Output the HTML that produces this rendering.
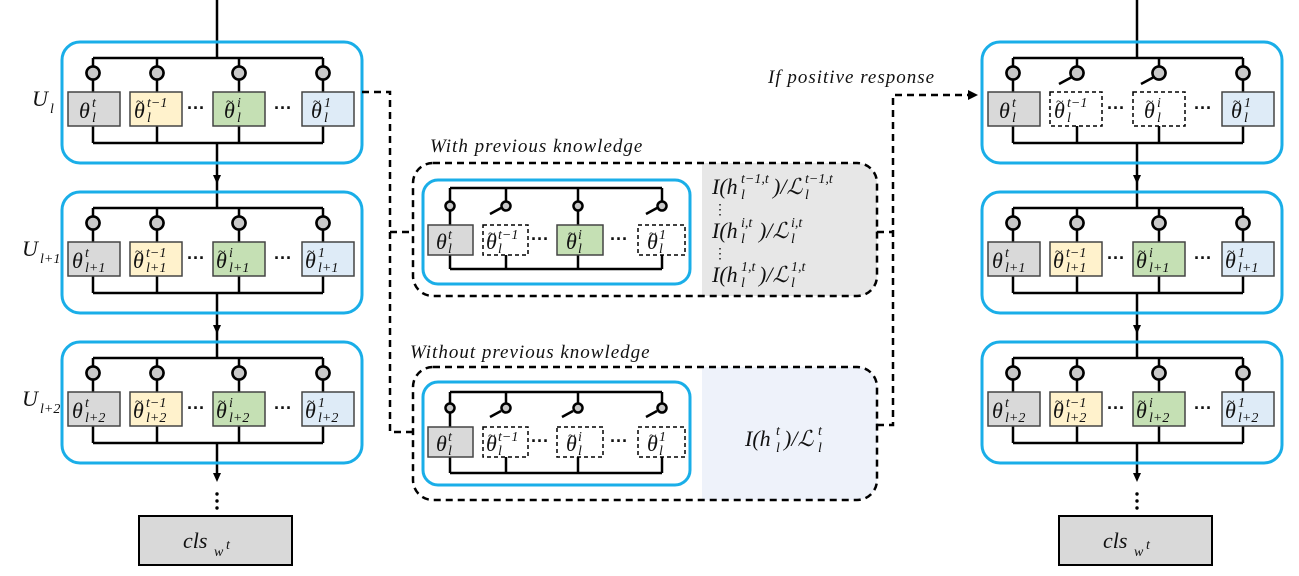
<!DOCTYPE html>
<html><head><meta charset="utf-8"><style>
html,body{margin:0;padding:0;background:#fff;}
svg{display:block;}
.m{font-family:"Liberation Serif",serif;font-style:italic;font-size:22px;fill:#111;}
.s{font-family:"Liberation Serif",serif;font-style:italic;font-size:14px;fill:#111;}
.t{font-family:"Liberation Serif",serif;font-size:14px;fill:#111;}
.lab{font-family:"Liberation Serif",serif;font-style:italic;font-size:19px;fill:#111;letter-spacing:1px;}
.w{stroke:#000;stroke-width:2.5;fill:none;}
.c{fill:#c8c8c8;stroke:#000;stroke-width:2.5;}
.b{stroke:#444;stroke-width:1.5;}
.d{stroke:#000;stroke-width:1.5;fill:#fff;stroke-dasharray:4 3;}
.blue{fill:none;stroke:#1aaee8;stroke-width:3;}
.dash{stroke:#000;stroke-width:2.5;fill:none;stroke-dasharray:7 5;}
.dots{font-family:"Liberation Sans",sans-serif;font-size:18px;font-weight:bold;fill:#111;}
</style></head><body>
<svg width="1299" height="576" viewBox="0 0 1299 576" xmlns="http://www.w3.org/2000/svg">
<defs>
<g id="frame">
<rect x="62" y="0" width="300" height="121" rx="18" class="blue"/>
<line x1="93" y1="16" x2="323" y2="16" class="w"/>
<line x1="93" y1="101" x2="323" y2="101" class="w"/>
<line x1="93" y1="84" x2="93" y2="101" class="w"/>
<line x1="157" y1="84" x2="157" y2="101" class="w"/>
<line x1="239" y1="84" x2="239" y2="101" class="w"/>
<line x1="323" y1="84" x2="323" y2="101" class="w"/>
<text x="187" y="72" class="dots">···</text>
<text x="274" y="72" class="dots">···</text>
</g>
<g id="closed">
<line x1="0" y1="16" x2="0" y2="50" class="w"/>
<circle cx="0" cy="31" r="6.5" class="c"/>
</g>
<g id="open">
<line x1="0" y1="16" x2="0" y2="25" class="w"/>
<circle cx="0" cy="31" r="6.5" class="c"/>
<line x1="-5" y1="35" x2="-18" y2="42" class="w"/>
</g>
</defs>

<g>
<line x1="217" y1="0" x2="217" y2="58" class="w"/>
<line x1="217" y1="143" x2="217" y2="208" class="w"/>
<line x1="217" y1="293" x2="217" y2="358" class="w"/>
<line x1="217" y1="443" x2="217" y2="478" class="w"/>
<line x1="1137" y1="0" x2="1137" y2="58" class="w"/>
<line x1="1137" y1="143" x2="1137" y2="208" class="w"/>
<line x1="1137" y1="293" x2="1137" y2="358" class="w"/>
<line x1="1137" y1="443" x2="1137" y2="478" class="w"/>
</g>
<g fill="#000">
<polygon points="213,175 221,175 217,184"/>
<polygon points="213,325 221,325 217,334"/>
<polygon points="213,473 221,473 217,482"/>
<polygon points="1133,175 1141,175 1137,184"/>
<polygon points="1133,325 1141,325 1137,334"/>
<polygon points="1133,473 1141,473 1137,482"/>
<circle cx="217" cy="494" r="1.7"/><circle cx="217" cy="501" r="1.7"/><circle cx="217" cy="508" r="1.7"/>
<circle cx="1137" cy="494" r="1.7"/><circle cx="1137" cy="501" r="1.7"/><circle cx="1137" cy="508" r="1.7"/>
</g>
<rect x="139" y="516" width="153" height="49" fill="#d9d9d9" stroke="#000" stroke-width="2"/>
<text x="183" y="548" class="m" font-size="24">cls</text><text x="214" y="556" class="s" font-size="15">w</text><text x="226" y="549" class="s" font-size="11">t</text>
<rect x="1059" y="516" width="153" height="49" fill="#d9d9d9" stroke="#000" stroke-width="2"/>
<text x="1103" y="548" class="m" font-size="24">cls</text><text x="1134" y="556" class="s" font-size="15">w</text><text x="1146" y="549" class="s" font-size="11">t</text>

<text x="32" y="106" class="m" font-size="25">U</text><text x="50" y="113" class="s" font-size="17">l</text>
<text x="22" y="256" class="m" font-size="25">U</text><text x="40" y="263" class="s" font-size="17">l+1</text>
<text x="22" y="406" class="m" font-size="25">U</text><text x="40" y="413" class="s" font-size="17">l+2</text>

<!-- LEFT rows -->
<g transform="translate(0,42)">
<use href="#frame"/>
<use href="#closed" x="93"/><use href="#closed" x="157"/><use href="#closed" x="239"/><use href="#closed" x="323"/>
<rect x="68" y="50" width="52" height="34" fill="#d9d9d9" class="b"/>
<rect x="130" y="50" width="52" height="34" fill="#fff2cc" class="b"/>
<rect x="213" y="50" width="52" height="34" fill="#c5e0b4" class="b"/>
<rect x="302" y="50" width="52" height="34" fill="#deebf7" class="b"/>
<circle cx="93" cy="31" r="6.5" class="c"/><circle cx="157" cy="31" r="6.5" class="c"/><circle cx="239" cy="31" r="6.5" class="c"/><circle cx="323" cy="31" r="6.5" class="c"/>
<text x="79" y="76" class="m">θ</text><text x="92" y="65" class="s">t</text><text x="92" y="80" class="s">l</text>
<text x="136" y="64" class="t">~</text><text x="134" y="76" class="m">θ</text><text x="147" y="65" class="s">t−1</text><text x="147" y="80" class="s">l</text>
<text x="226" y="64" class="t">~</text><text x="224" y="76" class="m">θ</text><text x="237" y="65" class="s">i</text><text x="237" y="80" class="s">l</text>
<text x="313" y="64" class="t">~</text><text x="311" y="76" class="m">θ</text><text x="324" y="65" class="s">1</text><text x="324" y="80" class="s">l</text>
</g>
<g transform="translate(0,192)">
<use href="#frame"/>
<use href="#closed" x="93"/><use href="#closed" x="157"/><use href="#closed" x="239"/><use href="#closed" x="323"/>
<rect x="68" y="50" width="52" height="34" fill="#d9d9d9" class="b"/>
<rect x="130" y="50" width="52" height="34" fill="#fff2cc" class="b"/>
<rect x="213" y="50" width="52" height="34" fill="#c5e0b4" class="b"/>
<rect x="302" y="50" width="52" height="34" fill="#deebf7" class="b"/>
<circle cx="93" cy="31" r="6.5" class="c"/><circle cx="157" cy="31" r="6.5" class="c"/><circle cx="239" cy="31" r="6.5" class="c"/><circle cx="323" cy="31" r="6.5" class="c"/>
<text x="72" y="76" class="m">θ</text><text x="85" y="65" class="s">t</text><text x="85" y="80" class="s">l+1</text>
<text x="135" y="64" class="t">~</text><text x="133" y="76" class="m">θ</text><text x="146" y="65" class="s">t−1</text><text x="146" y="80" class="s">l+1</text>
<text x="218" y="64" class="t">~</text><text x="216" y="76" class="m">θ</text><text x="229" y="65" class="s">i</text><text x="229" y="80" class="s">l+1</text>
<text x="307" y="64" class="t">~</text><text x="305" y="76" class="m">θ</text><text x="318" y="65" class="s">1</text><text x="318" y="80" class="s">l+1</text>
</g>
<g transform="translate(0,342)">
<use href="#frame"/>
<use href="#closed" x="93"/><use href="#closed" x="157"/><use href="#closed" x="239"/><use href="#closed" x="323"/>
<rect x="68" y="50" width="52" height="34" fill="#d9d9d9" class="b"/>
<rect x="130" y="50" width="52" height="34" fill="#fff2cc" class="b"/>
<rect x="213" y="50" width="52" height="34" fill="#c5e0b4" class="b"/>
<rect x="302" y="50" width="52" height="34" fill="#deebf7" class="b"/>
<circle cx="93" cy="31" r="6.5" class="c"/><circle cx="157" cy="31" r="6.5" class="c"/><circle cx="239" cy="31" r="6.5" class="c"/><circle cx="323" cy="31" r="6.5" class="c"/>
<text x="72" y="76" class="m">θ</text><text x="85" y="65" class="s">t</text><text x="85" y="80" class="s">l+2</text>
<text x="135" y="64" class="t">~</text><text x="133" y="76" class="m">θ</text><text x="146" y="65" class="s">t−1</text><text x="146" y="80" class="s">l+2</text>
<text x="218" y="64" class="t">~</text><text x="216" y="76" class="m">θ</text><text x="229" y="65" class="s">i</text><text x="229" y="80" class="s">l+2</text>
<text x="307" y="64" class="t">~</text><text x="305" y="76" class="m">θ</text><text x="318" y="65" class="s">1</text><text x="318" y="80" class="s">l+2</text>
</g>

<!-- RIGHT rows -->
<g transform="translate(920,42)">
<use href="#frame"/>
<use href="#closed" x="93"/><use href="#open" x="157"/><use href="#open" x="239"/><use href="#closed" x="323"/>
<rect x="68" y="50" width="52" height="34" fill="#d9d9d9" class="b"/>
<rect x="130" y="50" width="52" height="34" class="d"/>
<rect x="213" y="50" width="52" height="34" class="d"/>
<rect x="302" y="50" width="52" height="34" fill="#deebf7" class="b"/>
<circle cx="93" cy="31" r="6.5" class="c"/><circle cx="157" cy="31" r="6.5" class="c"/><circle cx="239" cy="31" r="6.5" class="c"/><circle cx="323" cy="31" r="6.5" class="c"/>
<text x="79" y="76" class="m">θ</text><text x="92" y="65" class="s">t</text><text x="92" y="80" class="s">l</text>
<text x="136" y="64" class="t">~</text><text x="134" y="76" class="m">θ</text><text x="147" y="65" class="s">t−1</text><text x="147" y="80" class="s">l</text>
<text x="226" y="64" class="t">~</text><text x="224" y="76" class="m">θ</text><text x="237" y="65" class="s">i</text><text x="237" y="80" class="s">l</text>
<text x="313" y="64" class="t">~</text><text x="311" y="76" class="m">θ</text><text x="324" y="65" class="s">1</text><text x="324" y="80" class="s">l</text>
</g>
<g transform="translate(920,192)">
<use href="#frame"/>
<use href="#closed" x="93"/><use href="#closed" x="157"/><use href="#closed" x="239"/><use href="#closed" x="323"/>
<rect x="68" y="50" width="52" height="34" fill="#d9d9d9" class="b"/>
<rect x="130" y="50" width="52" height="34" fill="#fff2cc" class="b"/>
<rect x="213" y="50" width="52" height="34" fill="#c5e0b4" class="b"/>
<rect x="302" y="50" width="52" height="34" fill="#deebf7" class="b"/>
<circle cx="93" cy="31" r="6.5" class="c"/><circle cx="157" cy="31" r="6.5" class="c"/><circle cx="239" cy="31" r="6.5" class="c"/><circle cx="323" cy="31" r="6.5" class="c"/>
<text x="72" y="76" class="m">θ</text><text x="85" y="65" class="s">t</text><text x="85" y="80" class="s">l+1</text>
<text x="135" y="64" class="t">~</text><text x="133" y="76" class="m">θ</text><text x="146" y="65" class="s">t−1</text><text x="146" y="80" class="s">l+1</text>
<text x="218" y="64" class="t">~</text><text x="216" y="76" class="m">θ</text><text x="229" y="65" class="s">i</text><text x="229" y="80" class="s">l+1</text>
<text x="307" y="64" class="t">~</text><text x="305" y="76" class="m">θ</text><text x="318" y="65" class="s">1</text><text x="318" y="80" class="s">l+1</text>
</g>
<g transform="translate(920,342)">
<use href="#frame"/>
<use href="#closed" x="93"/><use href="#closed" x="157"/><use href="#closed" x="239"/><use href="#closed" x="323"/>
<rect x="68" y="50" width="52" height="34" fill="#d9d9d9" class="b"/>
<rect x="130" y="50" width="52" height="34" fill="#fff2cc" class="b"/>
<rect x="213" y="50" width="52" height="34" fill="#c5e0b4" class="b"/>
<rect x="302" y="50" width="52" height="34" fill="#deebf7" class="b"/>
<circle cx="93" cy="31" r="6.5" class="c"/><circle cx="157" cy="31" r="6.5" class="c"/><circle cx="239" cy="31" r="6.5" class="c"/><circle cx="323" cy="31" r="6.5" class="c"/>
<text x="72" y="76" class="m">θ</text><text x="85" y="65" class="s">t</text><text x="85" y="80" class="s">l+2</text>
<text x="135" y="64" class="t">~</text><text x="133" y="76" class="m">θ</text><text x="146" y="65" class="s">t−1</text><text x="146" y="80" class="s">l+2</text>
<text x="218" y="64" class="t">~</text><text x="216" y="76" class="m">θ</text><text x="229" y="65" class="s">i</text><text x="229" y="80" class="s">l+2</text>
<text x="307" y="64" class="t">~</text><text x="305" y="76" class="m">θ</text><text x="318" y="65" class="s">1</text><text x="318" y="80" class="s">l+2</text>
</g>

<!-- MIDDLE: With previous knowledge -->
<text x="430" y="152" class="lab">With previous knowledge</text>
<path d="M702,163 H857 a20,20 0 0 1 20,20 V276 a20,20 0 0 1 -20,20 H702 Z" fill="#e7e7e7"/>
<rect x="413" y="163" width="464" height="133" rx="20" class="dash"/>
<rect x="423" y="180" width="267" height="104" rx="15" class="blue"/>
<g class="w" stroke-width="2.2">
<line x1="450" y1="188" x2="662" y2="188"/>
<line x1="450" y1="269" x2="662" y2="269"/>
<line x1="450" y1="188" x2="450" y2="225"/>
<line x1="506" y1="188" x2="506" y2="201"/>
<line x1="578" y1="188" x2="578" y2="225"/>
<line x1="662" y1="188" x2="662" y2="201"/>
<line x1="501" y1="208" x2="490" y2="214"/>
<line x1="657" y1="208" x2="646" y2="214"/>
<line x1="450" y1="255" x2="450" y2="269"/>
<line x1="506" y1="255" x2="506" y2="269"/>
<line x1="578" y1="255" x2="578" y2="269"/>
<line x1="662" y1="255" x2="662" y2="269"/>
</g>
<circle cx="450" cy="206" r="4.5" class="c" stroke-width="2"/>
<circle cx="506" cy="206" r="4.5" class="c" stroke-width="2"/>
<circle cx="578" cy="206" r="4.5" class="c" stroke-width="2"/>
<circle cx="662" cy="206" r="4.5" class="c" stroke-width="2"/>
<rect x="428" y="225" width="45" height="30" fill="#d9d9d9" class="b"/>
<rect x="483" y="225" width="45" height="30" class="d"/>
<rect x="557" y="225" width="46" height="30" fill="#c5e0b4" class="b"/>
<rect x="638" y="225" width="47" height="30" class="d"/>
<text x="436" y="249" class="m" font-size="20">θ</text><text x="448" y="239" class="s" font-size="13">t</text><text x="448" y="253" class="s" font-size="13">l</text>
<text x="488" y="238" class="t" font-size="12">~</text><text x="486" y="249" class="m" font-size="20">θ</text><text x="498" y="239" class="s" font-size="13">t−1</text><text x="498" y="253" class="s" font-size="13">l</text>
<text x="568" y="238" class="t" font-size="12">~</text><text x="566" y="249" class="m" font-size="20">θ</text><text x="578" y="239" class="s" font-size="13">i</text><text x="578" y="253" class="s" font-size="13">l</text>
<text x="649" y="238" class="t" font-size="12">~</text><text x="647" y="249" class="m" font-size="20">θ</text><text x="659" y="239" class="s" font-size="13">1</text><text x="659" y="253" class="s" font-size="13">l</text>
<text x="531" y="245" class="dots" font-size="15">···</text>
<text x="610" y="245" class="dots" font-size="15">···</text>

<text x="712" y="194" class="m" font-size="20">I(h</text><text x="741" y="183" class="s" font-size="13">t−1,t</text><text x="741" y="199" class="s" font-size="13">l</text>
<text x="773" y="194" class="m" font-size="20">)/ℒ</text><text x="805" y="183" class="s" font-size="13">t−1,t</text><text x="805" y="199" class="s" font-size="13">l</text>
<text x="713" y="214" class="t" font-size="13">⋮</text>
<text x="712" y="238" class="m" font-size="20">I(h</text><text x="741" y="227" class="s" font-size="13">i,t</text><text x="741" y="243" class="s" font-size="13">l</text>
<text x="759" y="238" class="m" font-size="20">)/ℒ</text><text x="791" y="227" class="s" font-size="13">i,t</text><text x="791" y="243" class="s" font-size="13">l</text>
<text x="713" y="258" class="t" font-size="13">⋮</text>
<text x="712" y="282" class="m" font-size="20">I(h</text><text x="741" y="271" class="s" font-size="13">1,t</text><text x="741" y="287" class="s" font-size="13">l</text>
<text x="759" y="282" class="m" font-size="20">)/ℒ</text><text x="791" y="271" class="s" font-size="13">1,t</text><text x="791" y="287" class="s" font-size="13">l</text>

<!-- MIDDLE: Without previous knowledge -->
<text x="410" y="358" class="lab">Without previous knowledge</text>
<path d="M702,367 H857 a20,20 0 0 1 20,20 V480 a20,20 0 0 1 -20,20 H702 Z" fill="#eef2fa"/>
<rect x="413" y="367" width="464" height="133" rx="20" class="dash"/>
<rect x="423" y="382" width="267" height="103" rx="15" class="blue"/>
<g class="w" stroke-width="2.2">
<line x1="450" y1="392" x2="662" y2="392"/>
<line x1="450" y1="473" x2="662" y2="473"/>
<line x1="450" y1="392" x2="450" y2="427"/>
<line x1="506" y1="392" x2="506" y2="403"/>
<line x1="578" y1="392" x2="578" y2="403"/>
<line x1="662" y1="392" x2="662" y2="403"/>
<line x1="501" y1="411" x2="490" y2="417"/>
<line x1="573" y1="411" x2="562" y2="417"/>
<line x1="657" y1="411" x2="646" y2="417"/>
<line x1="450" y1="457" x2="450" y2="473"/>
<line x1="506" y1="457" x2="506" y2="473"/>
<line x1="578" y1="457" x2="578" y2="473"/>
<line x1="662" y1="457" x2="662" y2="473"/>
</g>
<circle cx="450" cy="408" r="4.5" class="c" stroke-width="2"/>
<circle cx="506" cy="408" r="4.5" class="c" stroke-width="2"/>
<circle cx="578" cy="408" r="4.5" class="c" stroke-width="2"/>
<circle cx="662" cy="408" r="4.5" class="c" stroke-width="2"/>
<rect x="428" y="427" width="45" height="30" fill="#d9d9d9" class="b"/>
<rect x="483" y="427" width="45" height="30" class="d"/>
<rect x="557" y="427" width="46" height="30" class="d"/>
<rect x="638" y="427" width="47" height="30" class="d"/>
<text x="436" y="451" class="m" font-size="20">θ</text><text x="448" y="441" class="s" font-size="13">t</text><text x="448" y="455" class="s" font-size="13">l</text>
<text x="488" y="440" class="t" font-size="12">~</text><text x="486" y="451" class="m" font-size="20">θ</text><text x="498" y="441" class="s" font-size="13">t−1</text><text x="498" y="455" class="s" font-size="13">l</text>
<text x="568" y="440" class="t" font-size="12">~</text><text x="566" y="451" class="m" font-size="20">θ</text><text x="578" y="441" class="s" font-size="13">i</text><text x="578" y="455" class="s" font-size="13">l</text>
<text x="649" y="440" class="t" font-size="12">~</text><text x="647" y="451" class="m" font-size="20">θ</text><text x="659" y="441" class="s" font-size="13">1</text><text x="659" y="455" class="s" font-size="13">l</text>
<text x="531" y="447" class="dots" font-size="15">···</text>
<text x="610" y="447" class="dots" font-size="15">···</text>
<text x="745" y="446" class="m" font-size="21">I(h</text><text x="776" y="435" class="s" font-size="14">t</text><text x="776" y="452" class="s" font-size="14">l</text>
<text x="784" y="446" class="m" font-size="21">)/ℒ</text><text x="818" y="435" class="s" font-size="14">t</text><text x="818" y="452" class="s" font-size="14">l</text>

<!-- dashed connectors -->
<polyline points="362,92 390,92 390,432 413,432" class="dash"/>
<line x1="390" y1="232" x2="413" y2="232" class="dash"/>
<line x1="877" y1="232" x2="893" y2="232" class="dash"/>
<polyline points="877,425 893,425 893,95 970,95" class="dash"/>
<polygon points="968,90 978,95 968,100" fill="#000"/>
<text x="768" y="83" class="lab">If positive response</text>
</svg>
</body></html>
